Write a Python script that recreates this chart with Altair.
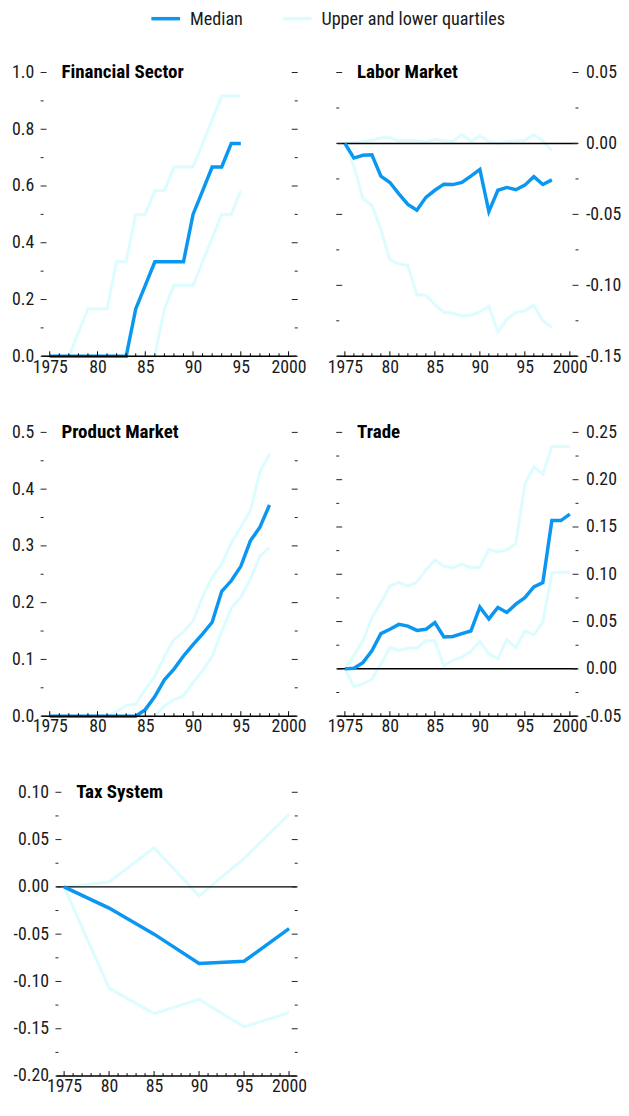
import altair as alt
import pandas as pd

FONT = "Roboto Condensed, DejaVu Sans Condensed, Liberation Sans Narrow, Roboto, sans-serif"
MED_COLOR = "#0a97f2"
Q_COLOR = "#dcfcff"
MED = "Median"
QRT = "Upper and lower quartiles"

# ---------------- data ----------------
fin_years = list(range(1975, 1996))
fin_median = [0] * 9 + [0.167, 0.25, 0.333, 0.333, 0.333, 0.333, 0.5, 0.583, 0.667, 0.667, 0.75, 0.75]
fin_upper = [0, 0, 0, 0.083, 0.167, 0.167, 0.167, 0.333, 0.333, 0.5, 0.5, 0.583, 0.583,
             0.667, 0.667, 0.667, 0.75, 0.833, 0.917, 0.917, 0.917]
fin_lower = [0] * 12 + [0.167, 0.25, 0.25, 0.25, 0.333, 0.417, 0.5, 0.5, 0.583]

lab_years = list(range(1975, 1999))
lab_median = [0, -0.0103, -0.0083, -0.008, -0.023, -0.0275, -0.0355, -0.043, -0.047, -0.038,
              -0.033, -0.0287, -0.029, -0.0275, -0.023, -0.0183, -0.048, -0.033, -0.031,
              -0.0326, -0.0294, -0.0234, -0.0289, -0.0257]
lab_upper = [0, 0.0005, 0.001, 0.0023, 0.004, 0.004, 0.0018, 0.0023, 0.0018, 0.001, 0.0028,
             0.0018, 0.0014, 0.0064, 0.0014, 0.0053, 0.0014, 0, 0.001, 0.0018, 0.0023,
             0.0062, 0.0018, -0.005]
lab_lower = [0, -0.016, -0.039, -0.0436, -0.0608, -0.082, -0.085, -0.086, -0.1067, -0.107,
             -0.1135, -0.119, -0.1197, -0.1216, -0.121, -0.1188, -0.1147, -0.133, -0.124,
             -0.119, -0.118, -0.114, -0.125, -0.1296]

prod_years = list(range(1975, 1999))
prod_median = [0] * 10 + [0.0115, 0.0345, 0.064, 0.083, 0.106, 0.126, 0.145, 0.1655, 0.22,
                          0.2385, 0.264, 0.309, 0.333, 0.372]
prod_upper = [0] * 7 + [0.008, 0.019, 0.021, 0.047, 0.07, 0.105, 0.135, 0.148, 0.168, 0.21,
                        0.245, 0.268, 0.305, 0.333, 0.362, 0.43, 0.462]
prod_lower = [0] * 12 + [0.018, 0.029, 0.036, 0.059, 0.08, 0.105, 0.149, 0.19, 0.21, 0.241,
                         0.282, 0.297]

tr_years = list(range(1975, 2001))
tr_median = [0, 0.0007, 0.0066, 0.019, 0.0373, 0.0418, 0.047, 0.0452, 0.0407, 0.0418, 0.049,
             0.0338, 0.0342, 0.0373, 0.04, 0.0653, 0.0528, 0.065, 0.0597, 0.0684, 0.0753,
             0.0867, 0.0912, 0.1568, 0.1568, 0.1637]
tr_upper = [0, 0.014, 0.0297, 0.054, 0.070, 0.0874, 0.0912, 0.0874, 0.0918, 0.1046, 0.115,
            0.1084, 0.1067, 0.1108, 0.107, 0.1074, 0.1264, 0.1236, 0.1257, 0.1326, 0.1954,
            0.2137, 0.2058, 0.2351, 0.2351, 0.2351]
tr_lower = [0, -0.0186, -0.0159, -0.011, 0.0048, 0.0228, 0.0193, 0.0221, 0.0221, 0.0297,
            0.0297, 0.0031, 0.009, 0.0124, 0.0186, 0.029, 0.0159, 0.0107, 0.0314, 0.0221,
            0.040, 0.0359, 0.0494, 0.1015, 0.1022, 0.1022]

tax_years = [1975, 1980, 1985, 1990, 1995, 2000]
tax_median = [0, -0.0224, -0.05, -0.081, -0.0786, -0.0441]
tax_upper = [0, 0.0052, 0.0414, -0.0097, 0.03, 0.0766]
tax_lower = [0, -0.107, -0.134, -0.119, -0.148, -0.133]

x_major = [1975, 1980, 1985, 1990, 1995, 2000]
x_minor = [y for y in range(1975, 2001) if y % 5 != 0]
x_dom = [1974.15, 2000.85]

fin_ymaj = [0, 0.2, 0.4, 0.6, 0.8, 1.0]
fin_ymin = [0.1, 0.3, 0.5, 0.7, 0.9]
lab_ymaj = [-0.15, -0.10, -0.05, 0, 0.05]
lab_ymin = [-0.125, -0.075, -0.025, 0.025]
prod_ymaj = [0, 0.1, 0.2, 0.3, 0.4, 0.5]
prod_ymin = [0.05, 0.15, 0.25, 0.35, 0.45]
tr_ymaj = [-0.05, 0, 0.05, 0.10, 0.15, 0.20, 0.25]
tr_ymin = [-0.025, 0.025, 0.075, 0.125, 0.175, 0.225]
tax_ymaj = [-0.20, -0.15, -0.10, -0.05, 0, 0.05, 0.10]
tax_ymin = [-0.175, -0.125, -0.075, -0.025, 0.025, 0.075]

H = 287
LEG = alt.Legend(title=None, orient="none", legendX=109, legendY=-71, direction="horizontal",
                 symbolType="stroke", symbolStrokeWidth=3.5, symbolSize=841,
                 labelFont=FONT, labelFontSize=18.4, labelColor="#1a1a1a", labelLimit=400,
                 labelOffset=8, columnPadding=33)
CSCALE = alt.Scale(domain=[MED, QRT], range=[MED_COLOR, Q_COLOR])


def panel(title, years, med, up, lo, ydom, ymaj, ymin, fmt, width, side, zero, x0=0):
    rows = []
    for name, vals, ser in (("lower", lo, QRT), ("upper", up, QRT), ("median", med, MED)):
        for yr, v in zip(years, vals):
            rows.append({"year": yr, "value": v, "series": ser, "line": name})
    df = pd.DataFrame(rows)
    xs = alt.Scale(domain=x_dom, nice=False, zero=False, range=[x0, width])
    ys = alt.Scale(domain=ydom, nice=False, zero=False)
    xa = alt.Axis(values=x_major, title=None, grid=False, ticks=False, domain=False,
                  labelPadding=2, labelFlush=False, labelOverlap=False, labelBound=False,
                  labelExpr="datum.value == 1975 || datum.value == 2000 ? '' + datum.value : substring('' + datum.value, 2, 4)")
    ya_kw = {}
    if x0:
        ya_kw["offset"] = -x0
    ya = alt.Axis(orient=side, values=ymaj, title=None, grid=False, ticks=False, domain=False,
                  labelPadding=8, labelFlush=False, labelOverlap=False, labelBound=False,
                  labelExpr="replace(format(datum.value, '" + fmt + "'), '\u2212', '-')",
                  **ya_kw)
    X = alt.X("year:Q", scale=xs, axis=xa)
    Y = alt.Y("value:Q", scale=ys, axis=ya)
    C = alt.Color("series:N", scale=CSCALE, legend=LEG)
    base = alt.Chart(df)
    quart = base.transform_filter(alt.datum.line != "median").mark_line(strokeWidth=3).encode(
        x=X, y=Y, color=C, detail="line:N")
    medl = base.transform_filter(alt.datum.line == "median").mark_line(strokeWidth=3.5).encode(
        x=X, y=Y, color=C)
    # x-axis line across the plot, drawn through the x scale
    frame = pd.DataFrame({"a": [x_dom[0]], "b": [x_dom[1]]})
    layers = [quart]
    if zero:
        layers.append(alt.Chart(frame).transform_calculate(value="0").mark_rule(
            color="black", strokeWidth=1.5).encode(
            x=alt.X("a:Q", scale=xs, axis=xa), x2="b:Q", y=Y))
    layers.append(medl)
    layers.append(alt.Chart(frame).mark_rule(color="black", strokeWidth=1.5).encode(
        x=alt.X("a:Q", scale=xs, axis=xa), x2="b:Q", y=alt.value(H)))
    # inward ticks on both sides
    for vals, ln in ((ymaj, 6), (ymin, 3)):
        d = pd.DataFrame({"value": vals})
        layers.append(alt.Chart(d).mark_rule(color="#222", strokeWidth=1).encode(
            y=Y, x=alt.value(x0 - 1), x2=alt.value(x0 + ln - 1)))
        layers.append(alt.Chart(d).mark_rule(color="#222", strokeWidth=1).encode(
            y=Y, x=alt.value(width - ln + 1), x2=alt.value(width + 1)))
    for vals, ln in ((x_major, 5), (x_minor, 3)):
        d = pd.DataFrame({"year": vals})
        layers.append(alt.Chart(d).mark_rule(color="black", strokeWidth=1).encode(
            x=X, y=alt.value(H), y2=alt.value(H - ln)))
    layers.append(alt.Chart(pd.DataFrame({"t": [title]})).mark_text(
        align="left", baseline="middle", font=FONT, fontSize=19.2, fontWeight="bold",
        color="black").encode(text="t:N", x=alt.value(x0 + 20), y=alt.value(0)))
    return alt.layer(*layers).properties(width=width, height=H)


p1 = panel("Financial Sector", fin_years, fin_median, fin_upper, fin_lower, [0, 1.0],
           fin_ymaj, fin_ymin, ".1f", 258, "left", False)
p2 = panel("Labor Market", lab_years, lab_median, lab_upper, lab_lower, [-0.15, 0.05],
           lab_ymaj, lab_ymin, ".2f", 243, "right", True)
p3 = panel("Product Market", prod_years, prod_median, prod_upper, prod_lower, [0, 0.5],
           prod_ymaj, prod_ymin, ".1f", 258, "left", False)
p4 = panel("Trade", tr_years, tr_median, tr_upper, tr_lower, [-0.05, 0.25],
           tr_ymaj, tr_ymin, ".2f", 243, "right", True)
p5 = panel("Tax System", tax_years, tax_median, tax_upper, tax_lower, [-0.20, 0.10],
           tax_ymaj, tax_ymin, ".2f", 258, "left", True, x0=15)

chart = alt.vconcat(
    alt.hconcat(p1, p2, spacing=20),
    alt.hconcat(p3, p4, spacing=20),
    p5,
    spacing=48,
).properties(
    padding={"left": 3, "top": -12, "right": 0, "bottom": 0}
).configure_view(stroke=None).configure_axis(
    labelFont=FONT, labelFontSize=18, labelColor="#1a1a1a"
)

chart.save("out.html", embed_options={"renderer": "svg", "actions": False})
